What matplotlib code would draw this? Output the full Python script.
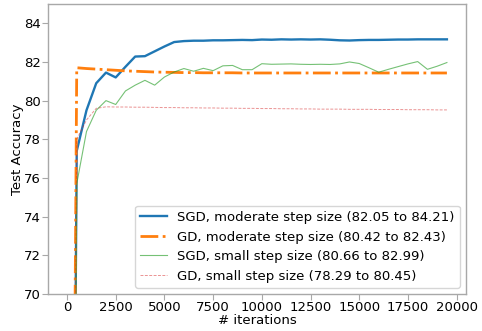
import matplotlib
matplotlib.use("Agg")
import matplotlib.pyplot as plt

# iterations, one point every 500 steps
iters = list(range(0, 20000, 500))

sgd_moderate = [10.0, 77.4, 79.5, 80.9, 81.45, 81.2, 81.75, 82.28, 82.3, 82.55,
                82.8, 83.03, 83.08, 83.1, 83.1, 83.12, 83.12, 83.13, 83.14, 83.13,
                83.16, 83.15, 83.17, 83.16, 83.17, 83.16, 83.17, 83.15, 83.12, 83.11,
                83.13, 83.14, 83.14, 83.15, 83.16, 83.16, 83.17, 83.17, 83.17, 83.17]
gd_moderate = [10.0, 81.7, 81.66, 81.63, 81.6, 81.57, 81.54, 81.52, 81.5, 81.48,
               81.47, 81.46, 81.45, 81.45, 81.44, 81.44, 81.44, 81.44, 81.43, 81.43,
               81.43, 81.43, 81.43, 81.43, 81.43, 81.43, 81.43, 81.43, 81.43, 81.43,
               81.43, 81.43, 81.43, 81.43, 81.43, 81.43, 81.43, 81.43, 81.43, 81.43]
sgd_small = [10.0, 75.7, 78.4, 79.5, 80.0, 79.8, 80.5, 80.8, 81.05, 80.8,
             81.22, 81.48, 81.66, 81.52, 81.67, 81.55, 81.8, 81.82, 81.6, 81.6,
             81.91, 81.88, 81.89, 81.9, 81.88, 81.87, 81.88, 81.87, 81.9, 82.0,
             81.92, 81.7, 81.47, 81.62, 81.76, 81.9, 82.02, 81.62, 81.78, 81.97]
gd_small = [10.0, 78.0, 79.0, 79.6, 79.68, 79.67, 79.67, 79.66, 79.66, 79.65,
            79.64, 79.64, 79.63, 79.63, 79.62, 79.62, 79.61, 79.61, 79.6, 79.6,
            79.59, 79.59, 79.58, 79.58, 79.57, 79.57, 79.56, 79.56, 79.56, 79.55,
            79.55, 79.55, 79.54, 79.54, 79.54, 79.53, 79.53, 79.53, 79.52, 79.52]

labels = ["SGD, moderate step size (82.05 to 84.21)",
          "GD, moderate step size (80.42 to 82.43)",
          "SGD, small step size (80.66 to 82.99)",
          "GD, small step size (78.29 to 80.45)"]

plt.rcParams['font.size'] = 9.5
fig = plt.figure(figsize=(4.82, 3.31), dpi=100)
ax = fig.add_axes([0.0996, 0.112, 0.867, 0.876])

ax.plot(iters, sgd_moderate, color='C0', lw=1.7, label=labels[0])
ax.plot(iters, gd_moderate, color='C1', lw=2.0, ls='-.', label=labels[1])
ax.plot(iters, sgd_small, color='C2', lw=0.8, alpha=0.65, label=labels[2])
ax.plot(iters, gd_small, color='C3', lw=0.7, ls='--', alpha=0.5,
        dashes=(3, 1.5), label=labels[3])

ax.set_ylim(70, 85)
ax.set_yticks([70, 72, 74, 76, 78, 80, 82, 84])
ax.set_xticks([0, 2500, 5000, 7500, 10000, 12500, 15000, 17500, 20000])
ax.set_xlabel('# iterations', labelpad=0)
ax.set_ylabel('Test Accuracy', labelpad=0)
for s in ax.spines.values():
    s.set_color('#a8a8a8')
    s.set_linewidth(1.0)
ax.tick_params(color='#a8a8a8', length=4, pad=1)
ax.legend(loc='lower right', borderaxespad=0.45)

fig.savefig('out.png', dpi=100)
